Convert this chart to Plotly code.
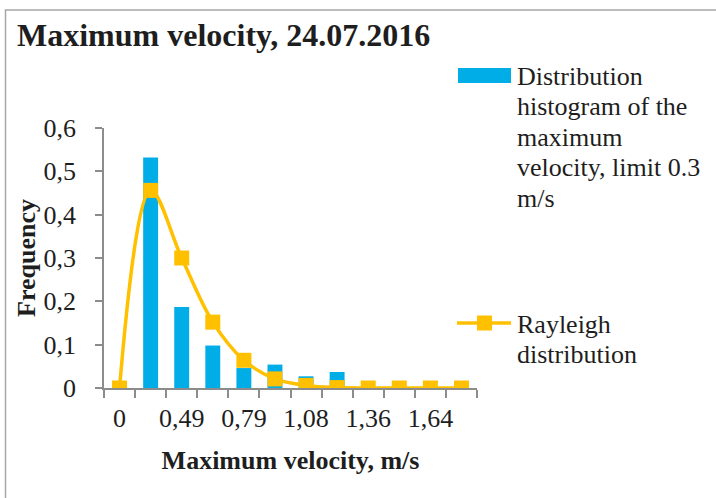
import plotly.graph_objects as go

# ---- data ----
categories = ["0", "0,3", "0,49", "0,64", "0,79", "0,93", "1,08", "1,22", "1,36", "1,5", "1,64", "1,79"]
hist_freq = [0, 0.532, 0.187, 0.098, 0.046, 0.054, 0.027, 0.037, 0, 0, 0, 0]
rayleigh_freq = [0, 0.456, 0.300, 0.152, 0.064, 0.021, 0.006, 0.001, 0, 0, 0, 0]
y_ticks = [0, 0.1, 0.2, 0.3, 0.4, 0.5, 0.6]
y_ticktext = ["0", "0,1", "0,2", "0,3", "0,4", "0,5", "0,6"]
shown_labels = [0, 2, 4, 6, 8, 10]

hist_name = "Distribution histogram of the maximum velocity, limit 0.3 m/s"
rayleigh_name = "Rayleigh distribution"
hist_lines = ["Distribution", "histogram of the", "maximum", "velocity, limit 0.3", "m/s"]
rayleigh_lines = ["Rayleigh", "distribution"]

# ---- style ----
W, H = 716, 498
L, R, T, B = 104, 477, 128, 388
FONT = "Liberation Serif, Times New Roman, serif"
BLUE = "#00ADE6"
GOLD = "#FFC000"
AXIS = "#8C8C8C"
TXT = "#1E1E1E"

def px(x):
    return (x - L) / (R - L)

def py(y):
    return (B - y) / (B - T)

idx = list(range(len(categories)))

fig = go.Figure()
fig.add_trace(go.Bar(x=idx, y=hist_freq, name=hist_name, marker=dict(color=BLUE, line=dict(width=0)),
                     width=0.48, showlegend=False))
fig.add_trace(go.Scatter(x=idx, y=rayleigh_freq, name=rayleigh_name, mode="lines+markers",
                         line=dict(color=GOLD, width=3.5, shape="spline", smoothing=1.0),
                         marker=dict(symbol="square", size=15, color=GOLD), showlegend=False))

shapes = []
annotations = []
# outer frame
shapes.append(dict(type="rect", xref="paper", yref="paper", x0=px(5.5), x1=px(740), y0=py(10), y1=py(520),
                   line=dict(color="#A6A6A6", width=1.5), fillcolor="rgba(0,0,0,0)", layer="below"))
# legend: histogram swatch
shapes.append(dict(type="rect", xref="paper", yref="paper", x0=px(458), x1=px(511), y0=py(68), y1=py(83),
                   line=dict(width=0), fillcolor=BLUE))
# legend: rayleigh line + marker
shapes.append(dict(type="line", xref="paper", yref="paper", x0=px(457), x1=px(511), y0=py(323), y1=py(323),
                   line=dict(color=GOLD, width=3.5)))
shapes.append(dict(type="rect", xref="paper", yref="paper", x0=px(477), x1=px(492), y0=py(315.5), y1=py(330.5),
                   line=dict(width=0), fillcolor=GOLD))

for i, t in enumerate(hist_lines):
    base = 84 + 30.5 * i
    annotations.append(dict(text=t, xref="paper", yref="paper", x=px(515), y=py(base - 8),
                            xanchor="left", yanchor="middle", showarrow=False,
                            font=dict(family=FONT, size=26, color=TXT)))
for i, t in enumerate(rayleigh_lines):
    base = 332 + 30.5 * i
    annotations.append(dict(text=t, xref="paper", yref="paper", x=px(515), y=py(base - 8),
                            xanchor="left", yanchor="middle", showarrow=False,
                            font=dict(family=FONT, size=26, color=TXT)))
# y-axis title
annotations.append(dict(text="<b>Frequency</b>", xref="paper", yref="paper", x=px(26), y=py(258),
                        xanchor="center", yanchor="middle", textangle=-90, showarrow=False,
                        font=dict(family=FONT, size=26, color=TXT)))

fig.update_layout(
    width=W, height=H,
    margin=dict(l=L, r=W - R, t=T, b=H - B),
    paper_bgcolor="white", plot_bgcolor="white",
    font=dict(family=FONT, size=26, color=TXT),
    title=dict(text="<b>Maximum velocity, 24.07.2016</b>", xref="container", yref="container",
               x=17 / W, xanchor="left", y=1 - 35 / H, yanchor="middle",
               font=dict(family=FONT, size=32, color=TXT)),
    showlegend=False,
    shapes=shapes,
    annotations=annotations,
    xaxis=dict(
        range=[-0.5, len(categories) - 0.5],
        tickmode="array",
        tickvals=shown_labels,
        ticktext=[categories[i] for i in shown_labels],
        ticks="outside", ticklen=6, tickcolor="rgba(0,0,0,0)",
        showline=True, linecolor=AXIS, linewidth=1.5,
        showgrid=False, zeroline=False,
        tickfont=dict(family=FONT, size=26, color=TXT),
        minor=dict(tickmode="array", tickvals=[i - 0.5 for i in range(len(categories) + 1)],
                   ticks="outside", ticklen=8, tickcolor=AXIS, tickwidth=1.5, showgrid=False),
        title=dict(text="<b>Maximum velocity, m/s</b>", standoff=19,
                   font=dict(family=FONT, size=26, color=TXT)),
        fixedrange=True,
    ),
    yaxis=dict(
        range=[0, 0.6],
        tickmode="array", tickvals=y_ticks, ticktext=y_ticktext,
        ticks="outside", ticklen=7, tickcolor=AXIS, tickwidth=1.5,
        ticklabelstandoff=14,
        showline=True, linecolor=AXIS, linewidth=1.5,
        showgrid=False, zeroline=False,
        tickfont=dict(family=FONT, size=26, color=TXT),
        fixedrange=True,
    ),
)

fig.write_html("out.html", config={"displayModeBar": False},
               post_script="document.body.style.margin='0';document.body.style.padding='0';")
